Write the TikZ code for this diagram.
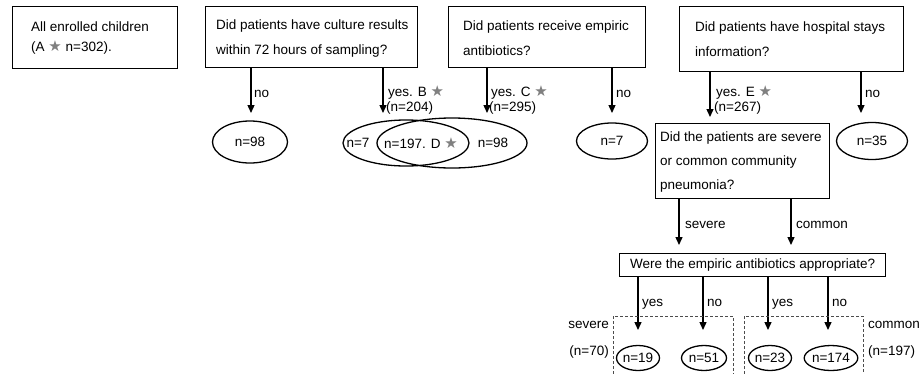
\documentclass[tikz,border=0pt]{standalone}
\usepackage{fontspec}
\setmainfont{Liberation Sans}
\newfontfamily\symfont{DejaVu Sans}
\usetikzlibrary{arrows.meta,shapes.geometric}
\newcommand{\gstar}{{\symfont\fontsize{15}{15}\selectfont\color{black!50}★}}
\begin{document}
\begin{tikzpicture}[x=1pt,y=-1pt, font=\fontsize{13.5}{16}\selectfont,
  box/.style={draw, line width=1.3pt, inner sep=0pt, rectangle, anchor=north west},
  txt/.style={inner sep=0pt, align=left, anchor=west},
  lbl/.style={inner sep=0pt, anchor=base west},
  arr/.style={line width=1.3pt, -{Triangle[length=8pt,width=7pt]}},
  ell/.style={draw, ellipse, line width=1.3pt, inner sep=0pt},
  dashbox/.style={dash pattern=on 3pt off 2pt, line width=0.7pt, black!70}]
\useasboundingbox (0,0) rectangle (921,373);

% top boxes
\node[box, minimum width=165pt, minimum height=62pt] (b1) at (12,6) {};
\node[txt, font=\fontsize{13.5}{20}\selectfont] (t1) at ([xshift=19pt]b1.west) {All enrolled children\\(A \gstar{} n=302).};

\node[box, minimum width=212pt, minimum height=61pt] (b2) at (205,6) {};
\node[txt, font=\fontsize{13.5}{25}\selectfont] (t2) at ([xshift=11pt,yshift=-1pt]b2.west) {Did patients have culture results\\within 72 hours of sampling?};

\node[box, minimum width=197pt, minimum height=61pt] (b3) at (448,6) {};
\node[txt, font=\fontsize{13.5}{25}\selectfont] (t3) at ([xshift=15pt,yshift=-1pt]b3.west) {Did patients receive empiric\\antibiotics?};

\node[box, minimum width=224pt, minimum height=65pt] (b4) at (679,6) {};
\node[txt, font=\fontsize{13.5}{25}\selectfont] (t4) at ([xshift=16pt]b4.west) {Did patients have hospital stays\\information?};

% row of ellipses
\node[ell, minimum width=75pt, minimum height=42pt] (n98a) at (250,142) {n=98};
\node[ell, minimum width=126pt, minimum height=46pt] (v1) at (406,143) {};
\node[ell, minimum width=150pt, minimum height=50pt] (v2) at (452,143) {};
\node[inner sep=0pt] (v7) at (358,143) {n=7};
\node[inner sep=0pt] (v197) at (421,143) {n=197. D \gstar};
\node[inner sep=0pt] (v98) at (493,143) {n=98};
\node[ell, minimum width=71pt, minimum height=36pt] (n7b) at (612,141) {n=7};
\node[ell, minimum width=71pt, minimum height=37pt] (n35) at (872,141) {n=35};

% arrows from top boxes
\coordinate (e1) at (251,113);
\coordinate (e2) at (383,113);
\coordinate (e3) at (487,113);
\coordinate (e4) at (612,113);
\coordinate (e5) at (710,117);
\coordinate (e6) at (861,113);
\draw[arr] (b2.south -| e1) -- (e1);
\draw[arr] (b2.south -| e2) -- (e2);
\draw[arr] (b3.south -| e3) -- (e3);
\draw[arr] (b3.south -| e4) -- (e4);
\draw[arr] (b4.south -| e5) -- (e5);
\draw[arr] (b4.south -| e6) -- (e6);

\node[lbl] (l1) at (254,97) {no};
\node[lbl] (l2a) at (388,96) {yes. B \gstar};
\node[lbl] (l2b) at (386,111) {(n=204)};
\node[lbl] (l3a) at (491,96) {yes. C \gstar};
\node[lbl] (l3b) at (489,111) {(n=295)};
\node[lbl] (l4) at (616,97) {no};
\node[lbl] (l5a) at (716,96) {yes. E \gstar};
\node[lbl] (l5b) at (714,111) {(n=267)};
\node[lbl] (l6) at (865,97) {no};

% second-level box
\node[box, minimum width=174pt, minimum height=75pt] (b5) at (655,123) {};
\node[txt, font=\fontsize{13.5}{24}\selectfont] (t5) at ([xshift=5pt,yshift=-1pt]b5.west) {Did the patients are severe\\or common community\\pneumonia?};

\node[box, minimum width=266pt, minimum height=23pt] (b6) at (619,253) {};
\node[inner sep=0pt] (t6) at (b6.center) {Were the empiric antibiotics appropriate?};

\coordinate (s1) at (679,245);
\coordinate (s2) at (791,245);
\draw[arr] (b5.south -| s1) -- (s1);
\draw[arr] (b5.south -| s2) -- (s2);
\node[lbl] (ls1) at (685,228) {severe};
\node[lbl] (ls2) at (796,228) {common};

% bottom arrows
\coordinate (f1) at (638,330);
\coordinate (f2) at (703,330);
\coordinate (f3) at (768,330);
\coordinate (f4) at (828,330);
\draw[arr] (b6.south -| f1) -- (f1);
\draw[arr] (b6.south -| f2) -- (f2);
\draw[arr] (b6.south -| f3) -- (f3);
\draw[arr] (b6.south -| f4) -- (f4);
\node[lbl] (lf1) at (642,306) {yes};
\node[lbl] (lf2) at (707,306) {no};
\node[lbl] (lf3) at (772,306) {yes};
\node[lbl] (lf4) at (832,306) {no};

% dashed groups
\draw[dashbox] (613,374) -- (613,316) -- (733,316) -- (733,374);
\draw[dashbox] (744,374) -- (744,316) -- (863,316) -- (863,374);

\node[ell, minimum width=42pt, minimum height=25pt] (n19) at (638,358) {n=19};
\node[ell, minimum width=45pt, minimum height=25pt] (n51) at (704,358) {n=51};
\node[ell, minimum width=38pt, minimum height=25pt] (n23) at (770,358) {n=23};
\node[ell, minimum width=42pt, minimum height=25pt] (n174) at (831,358) {n=174};

\node[inner sep=0pt, anchor=base east] (gs1) at (609,328) {severe};
\node[inner sep=0pt, anchor=base east] (gs2) at (609,355) {(n=70)};
\node[inner sep=0pt, anchor=base west] (gc1) at (868,328) {common};
\node[inner sep=0pt, anchor=base west] (gc2) at (868,355) {(n=197)};
\end{tikzpicture}
\end{document}
